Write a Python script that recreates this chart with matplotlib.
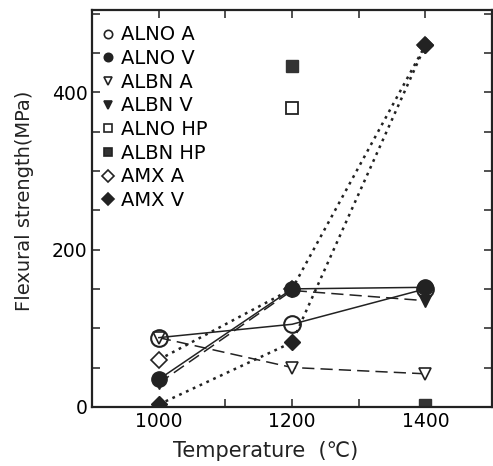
import matplotlib.pyplot as plt
from matplotlib.ticker import MultipleLocator, FixedLocator, FuncFormatter

plt.rcParams["font.family"] = ["DejaVu Sans"]

# Data
temps = [1000, 1200, 1400]
alno_a = [88, 105, 150]
alno_v = [35, 150, 152]
albn_a = [88, 50, 42]
albn_v = [30, 148, 135]
amx_a = [60, 150, 460]
amx_v = [3, 82, 460]
alno_hp_t = [1200]
alno_hp = [380]
albn_hp_t = [1200, 1400]
albn_hp = [433, 2]

fig = plt.figure(figsize=(4.93, 4.66), dpi=100)
ax = fig.add_axes([0.187, 0.127, 0.811, 0.852])

ink = "#222222"
ax.plot(temps, amx_a, marker="D", mfc="white", ms=8, mew=1.2, color=ink, lw=1.8, dashes=(1.1, 1.9))
ax.plot(temps, amx_v, marker="D", mfc=ink, ms=8, color=ink, lw=1.8, dashes=(1.1, 1.9))
ax.plot(temps, albn_a, marker="v", mfc="white", ms=9, mew=1.2, dashes=(8, 4), color=ink, lw=1.1)
ax.plot(temps, albn_v, marker="v", mfc=ink, ms=9, dashes=(8, 4), color=ink, lw=1.1)
ax.plot(temps, alno_v, "-", marker="o", mfc=ink, ms=11, color=ink, lw=1.1)
ax.plot(temps, alno_a, "-", marker="o", mfc="none", ms=12, mew=1.5, color=ink, lw=1.1)
ax.plot(alno_hp_t, alno_hp, "s", mfc="white", mec=ink, ms=8, mew=1.3)
ax.plot(albn_hp_t, albn_hp, "s", color="#333333", ms=8)

# Legend (markers only)
entries = [("o", "white", "ALNO A"), ("o", ink, "ALNO V"),
           ("v", "white", "ALBN A"), ("v", ink, "ALBN V"),
           ("s", "white", "ALNO HP"), ("s", "#333333", "ALBN HP"),
           ("D", "white", "AMX A"), ("D", ink, "AMX V")]
handles = [ax.plot([], [], ls="none", marker=m, mfc=fc, mec=ink, ms=6, mew=1.2)[0]
           for m, fc, _ in entries]
ax.legend(handles, [e[2] for e in entries], loc="upper left", frameon=False,
          fontsize=14, handlelength=0.6, handletextpad=0.4, labelspacing=0.24,
          borderaxespad=0.1, bbox_to_anchor=(0.0, 0.985))

ax.set_xlim(900, 1500)
ax.set_ylim(0, 505)
ax.xaxis.set_major_locator(FixedLocator([1000, 1200, 1400]))
ax.xaxis.set_minor_locator(FixedLocator([1100, 1300]))
ax.yaxis.set_major_locator(MultipleLocator(100))
ax.yaxis.set_minor_locator(MultipleLocator(50))
ax.yaxis.set_major_formatter(FuncFormatter(lambda v, p: f"{int(v)}" if v % 200 == 0 else ""))
ax.tick_params(which="both", direction="in", top=True, right=True, labelsize=13.5, color=ink)
ax.tick_params(which="major", length=6, width=1.1)
ax.tick_params(which="minor", length=6, width=1.1)
for s in ax.spines.values():
    s.set_linewidth(1.6)
    s.set_color(ink)

ax.set_xlabel("Temperature  (℃)", fontsize=15, color=ink)
ax.set_ylabel("Flexural strength(MPa)", fontsize=14, color=ink)
ax.xaxis.set_label_coords(0.435, -0.085)
ax.yaxis.set_label_coords(-0.145, 0.52)

fig.savefig("out.png", dpi=100)
